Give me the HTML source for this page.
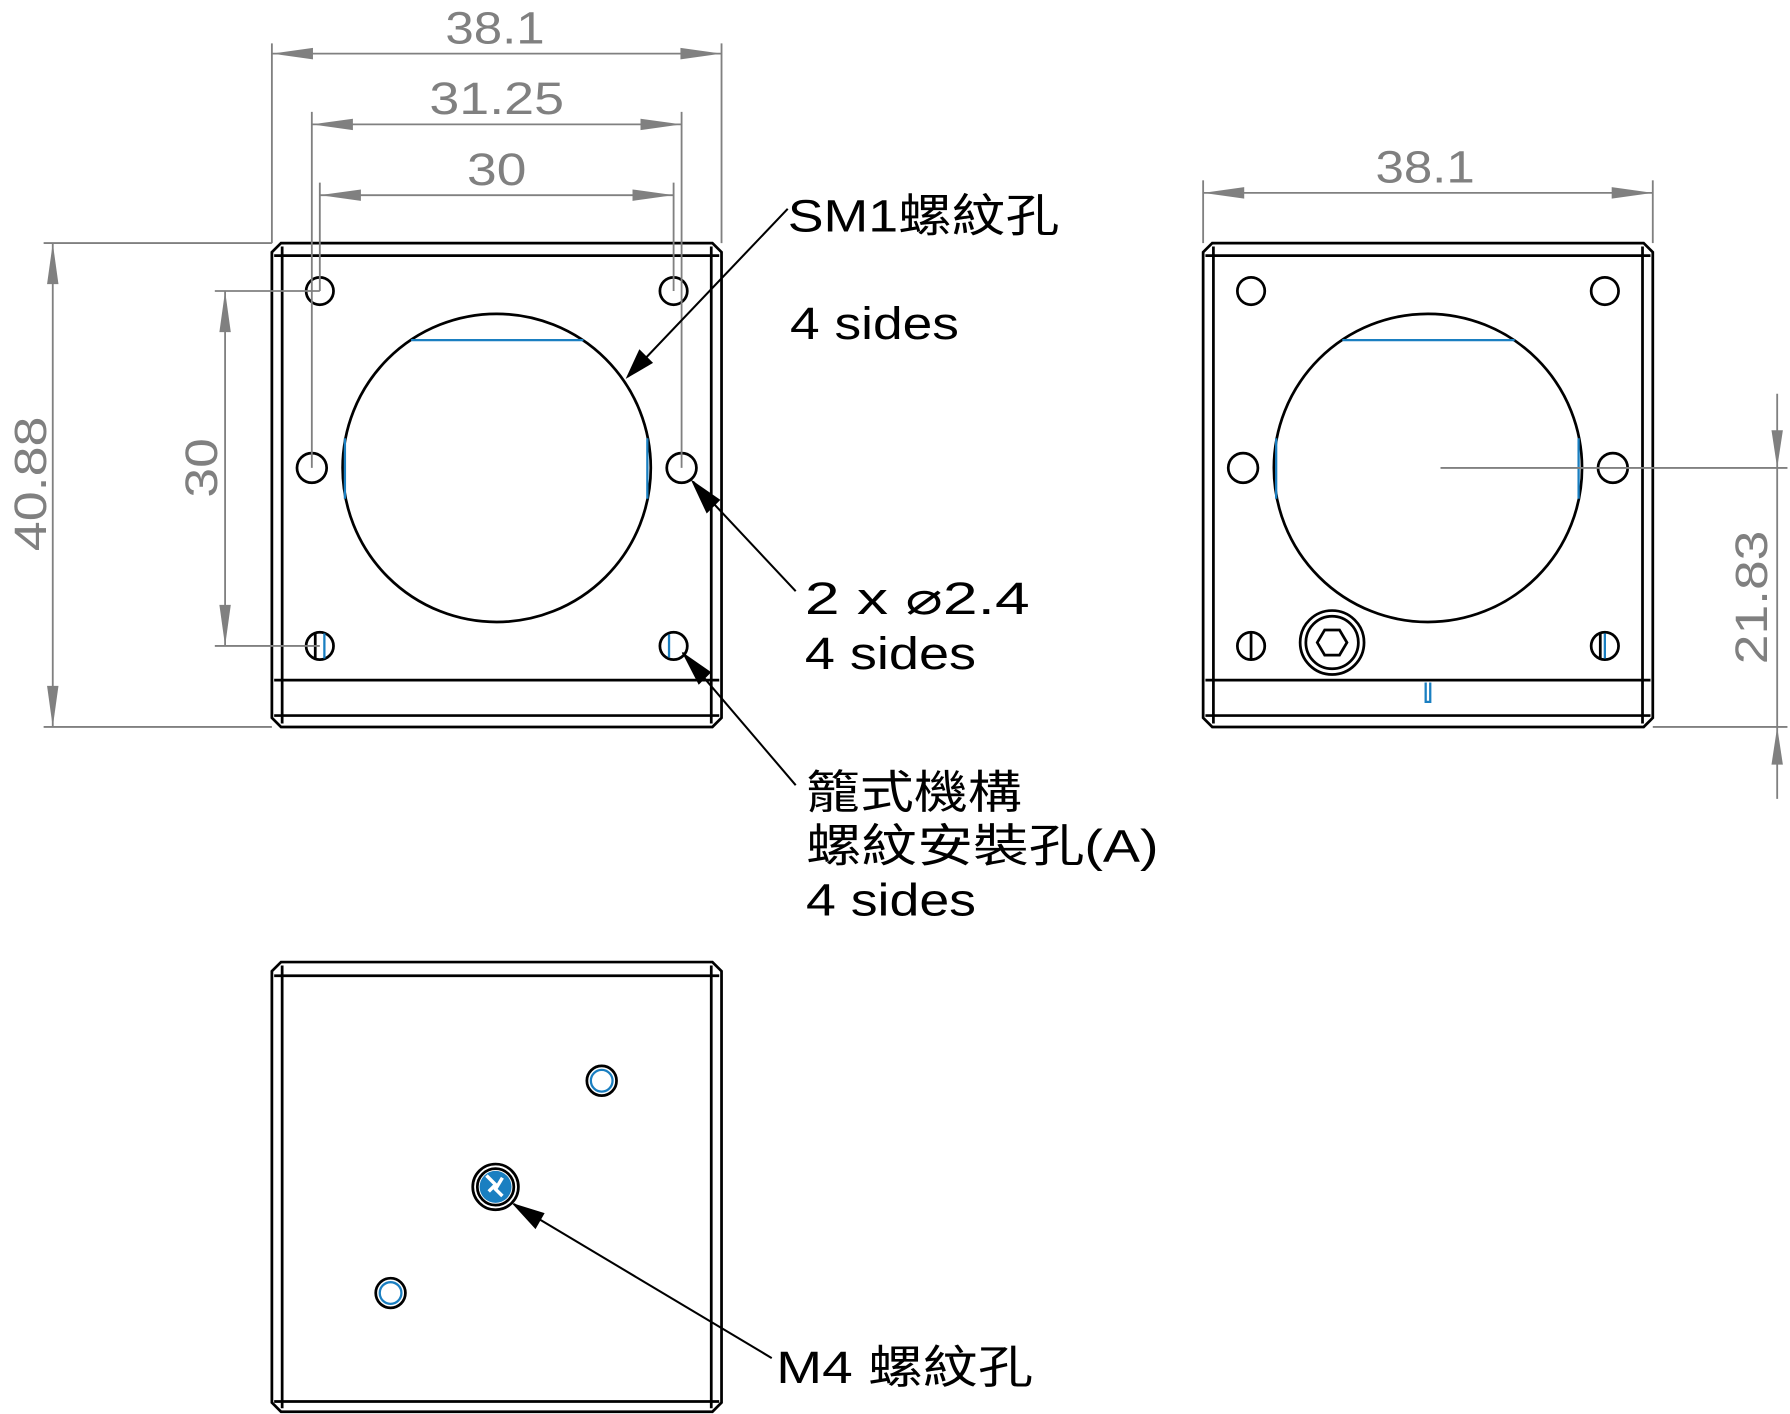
<!DOCTYPE html>
<html><head><meta charset="utf-8"><style>
html,body{margin:0;padding:0;background:#fff;}
svg{display:block}
.k{fill:none;stroke:#000;stroke-width:2.4}
.g{fill:none;stroke:#808080;stroke-width:1.6}
.b{fill:none;stroke:#1a7fc1;stroke-width:2}
.dt{font-family:"Liberation Sans",sans-serif;font-size:40px;fill:#808080}
.lt{font-family:"Liberation Sans","Noto Sans CJK TC",sans-serif;font-size:40px;fill:#000}
</style></head><body>
<svg width="1790" height="1414" viewBox="0 0 1568 1239" xmlns="http://www.w3.org/2000/svg">
<defs>
<g id="view">
<path class="k" d="M246 213 H624 L632 221 V629 L624 637 H246 L238 629 V221 Z"/>
<line class="k" x1="247" y1="216" x2="247" y2="634"/>
<line class="k" x1="623" y1="216" x2="623" y2="634"/>
<line class="k" x1="240" y1="224" x2="630" y2="224"/>
<line class="k" x1="240" y1="596" x2="630" y2="596"/>
<line class="k" x1="240" y1="627" x2="630" y2="627"/>
<circle class="k" cx="435" cy="410" r="135"/>
<line class="b" x1="360" y1="298" x2="511" y2="298"/>
<line class="b" x1="302" y1="384" x2="302" y2="437"/>
<line class="b" x1="567" y1="384" x2="567" y2="437"/>
<circle class="k" cx="280" cy="255" r="12"/>
<circle class="k" cx="590" cy="255" r="12"/>
<circle class="k" cx="273" cy="410" r="13"/>
<circle class="k" cx="597" cy="410" r="13"/>
<circle class="k" cx="280" cy="566" r="12"/>
<circle class="k" cx="590" cy="566" r="12"/>
</g>
</defs>
<use href="#view"/>
<line class="k" x1="276" y1="555" x2="276" y2="577"/>
<line class="b" x1="284" y1="555" x2="284" y2="577"/>
<line class="b" x1="586" y1="556" x2="586" y2="576"/>
<use href="#view" transform="translate(816,0)"/>
<line class="k" x1="1096" y1="554" x2="1096" y2="578"/>
<line class="k" x1="1402" y1="555" x2="1402" y2="577"/>
<line class="b" x1="1406" y1="555" x2="1406" y2="577"/>
<circle class="k" cx="1167" cy="563" r="28"/>
<circle class="k" cx="1167" cy="563" r="23"/>
<polygon class="k" points="1180,563 1173.5,574 1160.5,574 1154,563 1160.5,552 1173.5,552" stroke-width="4"/>
<path class="b" d="M1249 598 V615 H1253 V598"/>

<path class="k" d="M246 843 H624 L632 851 V1229 L624 1237 H246 L238 1229 V851 Z"/>
<line class="k" x1="247" y1="846" x2="247" y2="1234"/>
<line class="k" x1="623" y1="846" x2="623" y2="1234"/>
<line class="k" x1="240" y1="855" x2="630" y2="855"/>
<line class="k" x1="240" y1="1228" x2="630" y2="1228"/>
<circle class="k" cx="527" cy="947" r="13"/><circle class="b" cx="527" cy="947" r="9.5"/>
<circle class="k" cx="342" cy="1133" r="13"/><circle class="b" cx="342" cy="1133" r="9.5"/>
<circle class="k" cx="434" cy="1040" r="20"/><circle class="k" cx="434" cy="1040" r="16"/>
<circle cx="434" cy="1040" r="14" fill="#1a7fc1"/>
<path d="M426 1030 l8 8 l-6 6 M440 1032 l-6 10 l6 6" stroke="#fff" stroke-width="3" fill="none"/>

<g class="g">
<line x1="238" y1="38" x2="238" y2="213"/><line x1="632" y1="38" x2="632" y2="213"/>
<line x1="238" y1="47" x2="632" y2="47"/>
<line x1="273" y1="98" x2="273" y2="410"/><line x1="597" y1="98" x2="597" y2="410"/>
<line x1="273" y1="109" x2="597" y2="109"/>
<line x1="280" y1="160" x2="280" y2="255"/><line x1="590" y1="160" x2="590" y2="255"/>
<line x1="280" y1="171" x2="590" y2="171"/>
<line x1="38" y1="213" x2="238" y2="213"/><line x1="38" y1="637" x2="238" y2="637"/>
<line x1="46" y1="213" x2="46" y2="637"/>
<line x1="188" y1="255" x2="280" y2="255"/><line x1="188" y1="566" x2="280" y2="566"/>
<line x1="197" y1="255" x2="197" y2="566"/>
<line x1="1054" y1="158" x2="1054" y2="213"/><line x1="1448" y1="158" x2="1448" y2="213"/>
<line x1="1054" y1="169" x2="1448" y2="169"/>
<line x1="1262" y1="410" x2="1566" y2="410"/><line x1="1448" y1="637" x2="1566" y2="637"/>
<line x1="1557" y1="345" x2="1557" y2="700"/>
</g>
<g fill="#808080">
<polygon points="238,47 274,42 274,52"/><polygon points="632,47 596,42 596,52"/>
<polygon points="273,109 309,104 309,114"/><polygon points="597,109 561,104 561,114"/>
<polygon points="280,171 316,166 316,176"/><polygon points="590,171 554,166 554,176"/>
<polygon points="46,213 41,249 51,249"/><polygon points="46,637 41,601 51,601"/>
<polygon points="197,255 192,291 202,291"/><polygon points="197,566 192,530 202,530"/>
<polygon points="1054,169 1090,164 1090,174"/><polygon points="1448,169 1412,164 1412,174"/>
<polygon points="1557,410 1552,377 1562,377"/><polygon points="1557,637 1552,670 1562,670"/>
</g>
<text class="dt" x="390" y="38" textLength="87" lengthAdjust="spacingAndGlyphs">38.1</text>
<text class="dt" x="376" y="100" textLength="118" lengthAdjust="spacingAndGlyphs">31.25</text>
<text class="dt" x="409" y="162" textLength="52" lengthAdjust="spacingAndGlyphs">30</text>
<text class="dt" x="1205" y="160" textLength="87" lengthAdjust="spacingAndGlyphs">38.1</text>
<text class="dt" transform="translate(40,483) rotate(-90)" textLength="118" lengthAdjust="spacingAndGlyphs">40.88</text>
<text class="dt" transform="translate(190,436) rotate(-90)" textLength="52" lengthAdjust="spacingAndGlyphs">30</text>
<text class="dt" transform="translate(1548,582) rotate(-90)" textLength="117" lengthAdjust="spacingAndGlyphs">21.83</text>

<g stroke="#000" stroke-width="1.8">
<line x1="690" y1="183" x2="550" y2="330"/>
<line x1="697" y1="518" x2="607" y2="422"/>
<line x1="697" y1="688" x2="598" y2="572"/>
<line x1="676" y1="1190" x2="450" y2="1055"/>
</g>
<g fill="#000">
<polygon points="548,332 560,306 572,318"/>
<polygon points="605,420 631,438 619,450"/>
<polygon points="597,571 623,589 612,600"/>
<polygon points="448,1054 477,1063 469,1077"/>
</g>
<text class="lt" x="690" y="203" textLength="238" lengthAdjust="spacingAndGlyphs">SM1螺紋孔</text>
<text class="lt" x="692" y="297" textLength="148" lengthAdjust="spacingAndGlyphs">4 sides</text>
<text class="lt" x="705" y="538" textLength="197" lengthAdjust="spacingAndGlyphs">2 x ⌀2.4</text>
<text class="lt" x="705" y="586" textLength="150" lengthAdjust="spacingAndGlyphs">4 sides</text>
<text class="lt" x="706" y="708" textLength="189" lengthAdjust="spacingAndGlyphs">籠式機構</text>
<text class="lt" x="706" y="755" textLength="309" lengthAdjust="spacingAndGlyphs">螺紋安裝孔(A)</text>
<text class="lt" x="706" y="802" textLength="149" lengthAdjust="spacingAndGlyphs">4 sides</text>
<text class="lt" x="680" y="1212" textLength="225" lengthAdjust="spacingAndGlyphs">M4 螺紋孔</text>
</svg>
</body></html>
